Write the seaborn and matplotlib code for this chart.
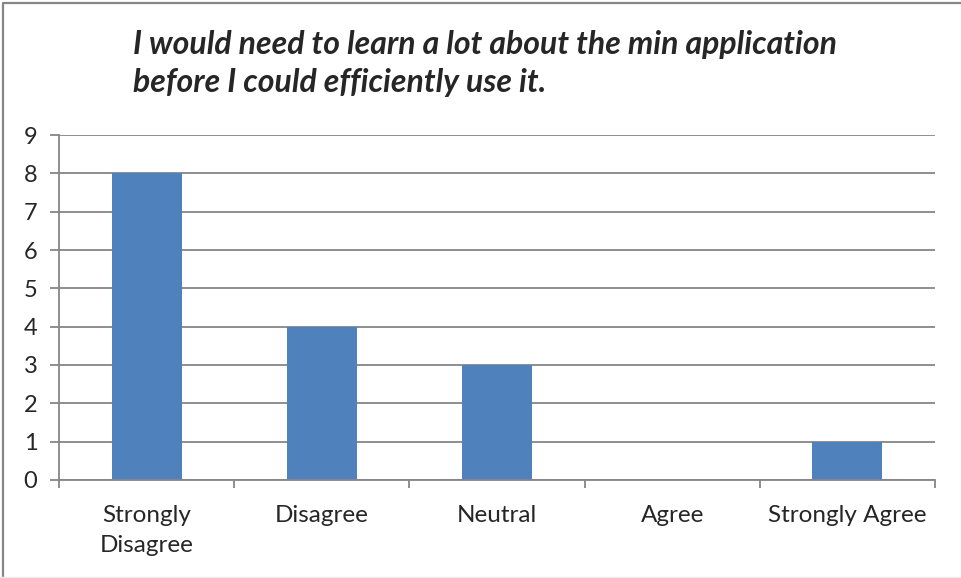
import numpy as np
import pandas as pd
import matplotlib.pyplot as plt
import matplotlib
import seaborn as sns

# survey answers
categories = ["Strongly\nDisagree", "Disagree", "Neutral", "Agree", "Strongly Agree"]
counts = [8, 4, 3, 0, 1]
y_ticks = [0, 1, 2, 3, 4, 5, 6, 7, 8, 9]
title = "I would need to learn a lot about the min application\nbefore I could efficiently use it."

sns.set_style("white")
plt.rcParams['font.family'] = ['Lato', 'DejaVu Sans']

df = pd.DataFrame({"answer": categories, "count": counts})

fig = plt.figure(figsize=(9.62, 5.78), dpi=100)
ax = fig.add_axes([0.0613, 0.1696, 0.9107, 0.5968])
sns.barplot(data=df, x="answer", y="count", color="#4F81BD", width=0.4, saturation=1,
            linewidth=0, ax=ax, zorder=3)

ax.set_ylim(0, 9)
ax.set_xlim(-0.5, len(categories) - 0.5)
ax.set_yticks(y_ticks)
ax.yaxis.grid(True, color="#868686", linewidth=1.3, zorder=0)
ax.set_axisbelow(True)
ax.set_xlabel("")
ax.set_ylabel("")

# category boundaries carry the x ticks, like Excel
ax.set_xticks(np.arange(len(categories)))
ax.set_xticklabels(categories, linespacing=1.55)
ax.tick_params(axis="x", length=0, labelsize=17.5, pad=18, bottom=True)
ax.set_xticks(np.arange(-0.5, len(categories)), minor=True)
ax.tick_params(axis="x", which="minor", length=6, width=1.3, color="#868686", direction="out", bottom=True)
ax.tick_params(axis="y", length=6.5, width=1.3, color="#868686", labelsize=17, pad=9, left=True)

for s in ["top", "right"]:
    ax.spines[s].set_visible(False)
for s in ["left", "bottom"]:
    ax.spines[s].set_color("#868686")
    ax.spines[s].set_linewidth(1.3)
ax.spines["bottom"].set_zorder(4)

fig.text(0.138, 0.948, title, fontsize=23, fontweight="bold", fontstyle="italic",
         ha="left", va="top", linespacing=1.38)

# chart frame: only top and left edges show in the screenshot
fig.add_artist(matplotlib.lines.Line2D([0.0027, 0.0027, 1.0], [0.0, 0.9955, 0.9955],
                                       transform=fig.transFigure, color="#868686", linewidth=1.6))
fig.add_artist(matplotlib.lines.Line2D([0.0, 1.0], [0.001, 0.001],
                                       transform=fig.transFigure, color="#ececec", linewidth=1))

plt.savefig("out.png", dpi=100, format="png")
